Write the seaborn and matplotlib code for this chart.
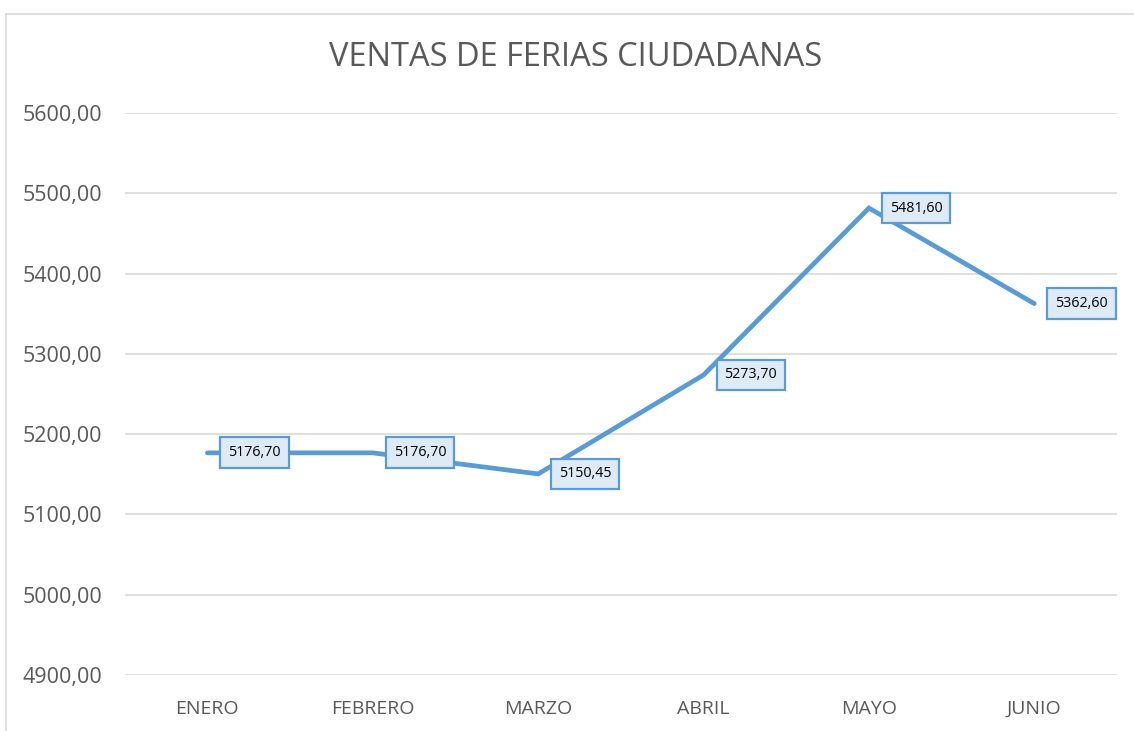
import matplotlib
matplotlib.use('Agg')
import matplotlib.pyplot as plt
from matplotlib.patches import Rectangle
from matplotlib.ticker import FuncFormatter
import seaborn as sns
import pandas as pd

# ── Datos ─────────────────────────────────────────────
meses = ['ENERO', 'FEBRERO', 'MARZO', 'ABRIL', 'MAYO', 'JUNIO']
ventas = [5176.70, 5176.70, 5150.45, 5273.70, 5481.60, 5362.60]
yticks = [4900, 5000, 5100, 5200, 5300, 5400, 5500, 5600]

df = pd.DataFrame({'mes': meses, 'ventas': ventas})

def coma(v, pos=None):
    return f"{v:.2f}".replace('.', ',')

sns.set_theme(style='white')
plt.rcParams['font.family'] = ['Open Sans', 'DejaVu Sans']

AZUL = '#5B9BD5'
GRIS = '#595959'

fig = plt.figure(figsize=(11.34, 7.31), dpi=100)
ax = fig.add_axes([0.110, 0.0766, 0.875, 0.7688])

sns.lineplot(data=df, x='mes', y='ventas', sort=False, color=AZUL,
             linewidth=3.4, ax=ax, solid_capstyle='round', solid_joinstyle='miter')

ax.set_xlim(-0.5, len(meses) - 0.5)
ax.set_ylim(4900, 5600)
ax.set_yticks(yticks)
ax.yaxis.set_major_formatter(FuncFormatter(coma))
ax.yaxis.grid(True, color='#D9D9D9', linewidth=1.2)
ax.xaxis.grid(False)
for s in ax.spines.values():
    s.set_visible(False)
ax.tick_params(axis='y', labelsize=15.5, labelcolor=GRIS, length=0, pad=16)
ax.tick_params(axis='x', labelsize=14, labelcolor=GRIS, length=0, pad=18)
ax.set_xlabel('')
ax.set_ylabel('')

# etiquetas de datos
for i, v in enumerate(ventas):
    ax.annotate(coma(v), (i, v), xytext=(15, 0), textcoords='offset points',
                ha='left', va='center', fontsize=10.3, color='black',
                bbox=dict(boxstyle='square,pad=0.55', fc='#DEEBF7', ec=AZUL, lw=1.6))

fig.text(576 / 1134, 1 - 58 / 731, 'VENTAS DE FERIAS CIUDADANAS', ha='center', va='center',
         fontsize=23.5, color=GRIS)

# marco del gráfico
fig.patches.append(Rectangle((6 / 1134, -0.01), 1.1, 1 - 14 / 731 + 0.01,
                             transform=fig.transFigure, fill=False,
                             ec='#D9D9D9', lw=1.2))

plt.savefig('out.png', dpi=100)
plt.close()
